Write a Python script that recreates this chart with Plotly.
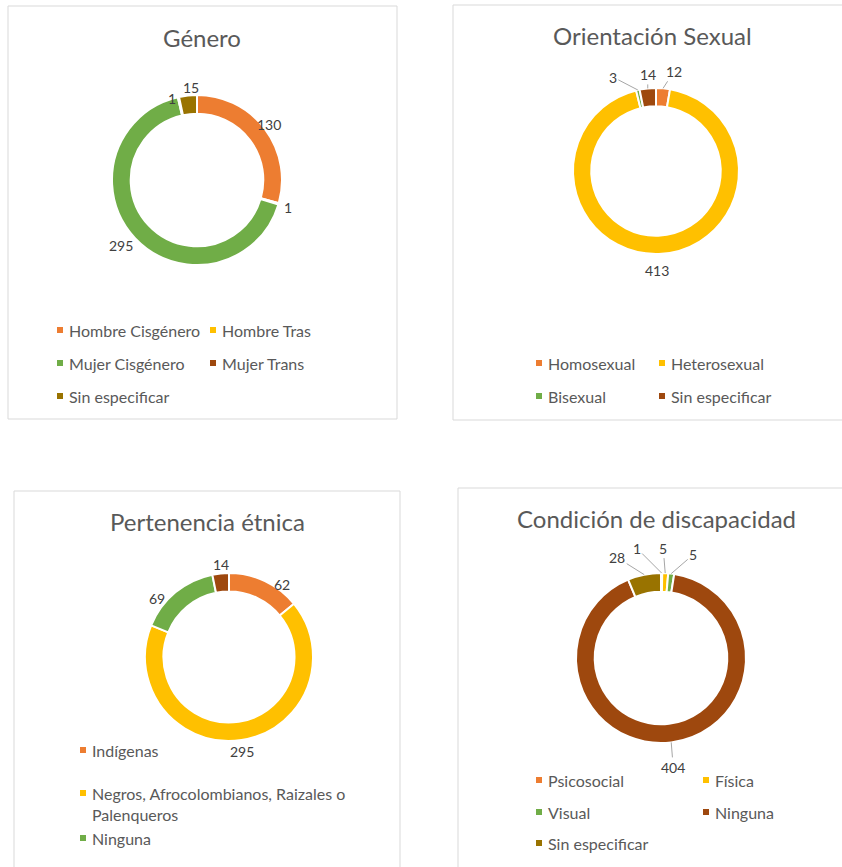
import math
import plotly.graph_objects as go

W, H = 842, 867

# ---------------- data ----------------
genero_labels = ["Hombre Cisgénero", "Hombre Tras", "Mujer Cisgénero", "Mujer Trans", "Sin especificar"]
genero_values = [130, 1, 295, 1, 15]

orient_labels = ["Homosexual", "Heterosexual", "Bisexual", "Sin especificar"]
orient_values = [12, 413, 3, 14]

etnia_labels = ["Indígenas", "Negros, Afrocolombianos, Raizales o Palenqueros", "Ninguna", "Sin especificar"]
etnia_values = [62, 295, 69, 14]

discap_labels = ["Psicosocial", "Física", "Visual", "Ninguna", "Sin especificar"]
discap_values = [1, 5, 5, 404, 28]

palette = ["#ED7D31", "#FFC000", "#70AD47", "#9E480E", "#997300"]

FONT = "Lato"
TITLE_C = "#595959"
LABEL_C = "#404040"
LEADER_C = "#A6A6A6"


def px(x):
    return x / W


def py(y):
    return 1 - y / H


fig = go.Figure()

# label offsets (dx, dy in px from the slice's outer-edge midpoint) and leader flag
panels = [
    dict(title="Género", labels=genero_labels, values=genero_values,
         center=(197, 180), r=85, title_xy=(202, 38),
         box=(8, 6, 397, 419),
         lab=[(4, -4, False), (9, 4, False), (-14, 7, False), (-6, 1, False), (3, -8, False)]),
    dict(title="Orientación Sexual", labels=orient_labels, values=orient_values,
         center=(656, 171), r=83, title_xy=(652, 35),
         box=(453, 5, 846, 420),
         lab=[(11, -17, True), (-2, 17, False), (-25, -13, True), (0, -14, True)]),
    dict(title="Pertenencia étnica", labels=etnia_labels, values=etnia_values,
         center=(229, 657), r=84, title_xy=(207, 521),
         box=(14, 491, 400, 875),
         lab=[(17, 3, False), (0, 11, False), (-18, 6, False), (0, -9, False)]),
    dict(title="Condición de discapacidad", labels=discap_labels, values=discap_values,
         center=(661, 658), r=85, title_xy=(656, 518),
         box=(458, 488, 846, 875),
         lab=[(-25, -25, True), (-2, -25, True), (22, -19, True), (2, 25, True), (-27, -17, True)]),
]

shapes = []
annotations = []

for p in panels:
    cx, cy = p["center"]
    r = p["r"]
    vals = p["values"]
    fig.add_trace(go.Pie(
        labels=p["labels"], values=vals,
        hole=0.78, sort=False, direction="clockwise", rotation=0,
        marker=dict(colors=palette[:len(vals)], line=dict(color="white", width=2)),
        textinfo="none",
        domain=dict(x=[px(cx - r), px(cx + r)], y=[py(cy + r), py(cy - r)]),
        showlegend=False, automargin=False,
    ))
    # data labels anchored on each slice's mid-angle
    total = float(sum(vals))
    cum = 0.0
    for v, (dx, dy, leader) in zip(vals, p["lab"]):
        ang = (cum + v / 2.0) / total * 2 * math.pi
        cum += v
        ex = cx + r * math.sin(ang)
        ey = cy - r * math.cos(ang)
        base = dict(text=str(v), xref="paper", yref="paper",
                    font=dict(family=FONT, size=14, color=LABEL_C))
        if leader:
            annotations.append(dict(base, x=px(ex), y=py(ey), showarrow=True,
                                    ax=dx, ay=dy, arrowhead=0, arrowwidth=1,
                                    arrowcolor=LEADER_C, standoff=0))
        else:
            annotations.append(dict(base, x=px(ex + dx), y=py(ey + dy), showarrow=False,
                                    xanchor="center", yanchor="middle"))
    x0, y0, x1, y1 = p["box"]
    shapes.append(dict(type="rect", xref="paper", yref="paper",
                       x0=px(x0), x1=px(x1), y0=py(y1), y1=py(y0),
                       line=dict(color="#D9D9D9", width=1), fillcolor="rgba(0,0,0,0)"))
    tx, ty = p["title_xy"]
    annotations.append(dict(text=p["title"], x=px(tx), y=py(ty), xref="paper", yref="paper",
                            xanchor="center", yanchor="middle", showarrow=False,
                            font=dict(family=FONT, size=24, color=TITLE_C)))

# legends: (label, color index, marker x, y)
legend_items = [
    (genero_labels[0], 0, 60, 330), (genero_labels[1], 1, 213, 330),
    (genero_labels[2], 2, 60, 363), (genero_labels[3], 3, 213, 363),
    (genero_labels[4], 4, 60, 396),
    (orient_labels[0], 0, 539, 363), (orient_labels[1], 1, 662, 363),
    (orient_labels[2], 2, 539, 396), (orient_labels[3], 3, 662, 396),
    (etnia_labels[0], 0, 83, 750),
    ("Negros, Afrocolombianos, Raizales o<br>Palenqueros", 1, 83, 793),
    (etnia_labels[2], 2, 83, 838),
    (discap_labels[0], 0, 539, 780), (discap_labels[1], 1, 706, 780),
    (discap_labels[2], 2, 539, 812), (discap_labels[3], 3, 706, 812),
    (discap_labels[4], 4, 539, 843),
]

for text, ci, mx, my in legend_items:
    shapes.append(dict(type="rect", xref="paper", yref="paper",
                       x0=px(mx - 3), x1=px(mx + 3), y0=py(my + 3), y1=py(my - 3),
                       line=dict(width=0), fillcolor=palette[ci]))
    multiline = "<br>" in text
    annotations.append(dict(text=text, x=px(mx + 7), y=py(my - 11) if multiline else py(my),
                            xref="paper", yref="paper",
                            xanchor="left", yanchor="top" if multiline else "middle",
                            align="left", showarrow=False,
                            font=dict(family=FONT, size=16, color=TITLE_C)))

fig.update_layout(
    width=W, height=H,
    margin=dict(l=0, r=0, t=0, b=0),
    paper_bgcolor="white", plot_bgcolor="white",
    shapes=shapes, annotations=annotations,
    showlegend=False,
)

fig.write_html(
    "out.html",
    config={"displayModeBar": False},
    post_script="document.body.style.margin='0';document.body.style.overflow='hidden';",
)
